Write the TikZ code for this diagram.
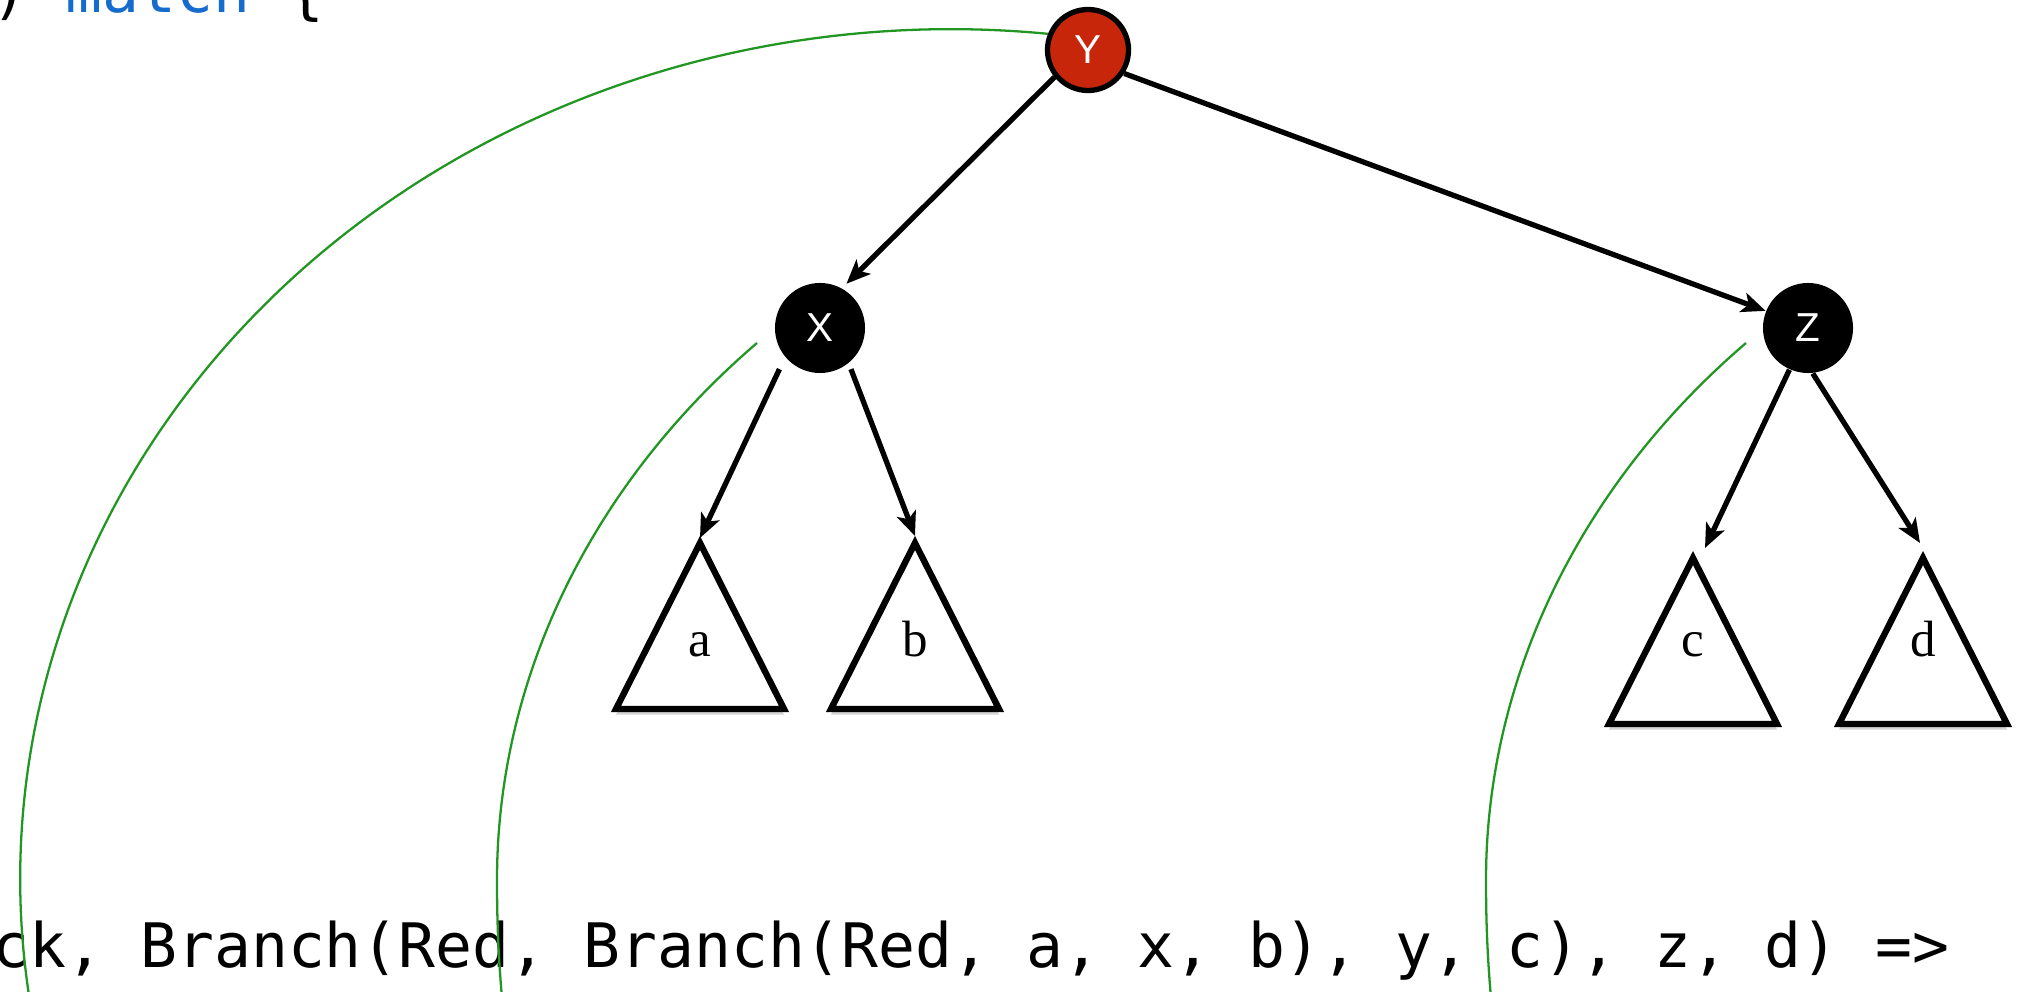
\documentclass[tikz,border=0pt]{standalone}
\usepackage{fontspec}
\usepackage{xcolor}
\usepackage{tikz}
\usetikzlibrary{arrows.meta,shadows}
\newfontfamily\codefont{DejaVu Sans Mono}
\newfontfamily\keyfont{Liberation Sans}
\newfontfamily\leaffont{Liberation Serif}
\definecolor{nodered}{RGB}{200,38,10}
\definecolor{kwblue}{RGB}{22,108,204}
\definecolor{arcgreen}{RGB}{34,150,34}

\begin{document}
\begin{tikzpicture}[x=0.01cm,y=-0.01cm,>={Stealth[length=0.24cm,width=0.2cm,inset=0.06cm]},
  rednode/.style={circle,draw=black,line width=1.5pt,fill=nodered,text=white,minimum size=0.81cm,inner sep=0pt,font=\keyfont\fontsize{11.5pt}{11.5pt}\selectfont},
  blacknode/.style={circle,fill=black,text=white,minimum size=0.9cm,inner sep=0pt,font=\keyfont\fontsize{11.5pt}{11.5pt}\selectfont},
  edge/.style={->,line width=1.5pt},
  subtree/.style={line width=1.8pt,line join=miter,fill=white,drop shadow={shadow xshift=0pt,shadow yshift=-1.6pt,opacity=0.35}},
  leaf/.style={anchor=base,inner sep=0pt,font=\leaffont\fontsize{14.5pt}{14.5pt}\selectfont},
  code/.style={anchor=base west,inner sep=0pt,font=\codefont\fontsize{17.44pt}{20pt}\selectfont},
  trace/.style={arcgreen,line width=0.65pt}]
\clip (0,0) rectangle (2033,992);
\node[code] (head) at (-9,13) {) \textcolor{kwblue}{match} \{};
\node[code] (pattern) at (-8,968) {ck, Branch(Red, Branch(Red, a, x, b), y, c), z, d) =>};
\node[rednode] (Y) at (1088,50) {Y};
\node[blacknode] (X) at (820,328) {X};
\node[blacknode] (Z) at (1808,328) {Z};
\foreach \t/\px/\py/\tx/\ty in {a/700/543/700/538, b/915/543/915/536, c/1693/558/1705/548, d/1923/558/1920/543}{
  \draw[subtree] (\px,\py) -- ++(84,166) -- ++(-168,0) -- cycle;
  \node[leaf] (\t) at (\px,657) {\t};
  \coordinate (\t-top) at (\tx,\ty);
}
\draw[edge,shorten >=0.06cm] (Y.219) -- (X.61);
\draw[edge] (Y.327) -- (Z.158);
\draw[edge,shorten <=0.13cm] (X.220) -- (a-top);
\draw[edge,shorten <=0.06cm] (X.309) -- (b-top);
\draw[edge] (Z.246) -- (c-top);
\draw[edge] (Z.276) -- (d-top);
\coordinate (xs) at (757,343);
\coordinate (zs) at (1746,343);
\draw[trace] (Y.158) arc[start angle=84,end angle=192,x radius=9.3cm,y radius=8.49cm];
\draw[trace] (xs) .. controls (590,486) and (497,680) .. (497,880) .. controls (497,930) and (499,965) .. (503,1010);
\draw[trace] (zs) .. controls (1579,486) and (1486,680) .. (1486,880) .. controls (1486,930) and (1488,965) .. (1492,1010);
\end{tikzpicture}
\end{document}
